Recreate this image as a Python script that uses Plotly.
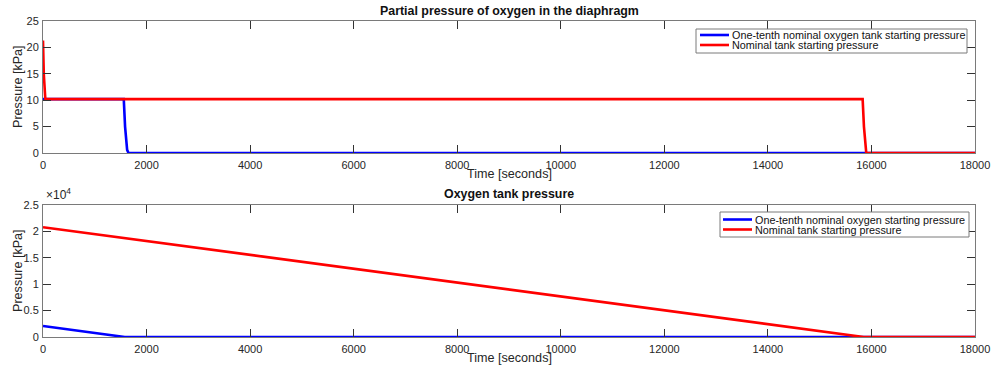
import plotly.graph_objects as go

# Partial pressure of oxygen in the diaphragm [kPa]
t_pp_low = [0, 1560, 1585, 1605, 1625, 1650, 18000]
pp_low = [10.2, 10.2, 5.0, 2.0, 0.6, 0.0, 0.0]
t_pp_nom = [0, 15, 45, 15830, 15855, 15875, 15900, 18000]
pp_nom = [21.3, 15.0, 10.2, 10.2, 5.0, 2.0, 0.0, 0.0]

# Oxygen tank pressure [kPa]
t_tank_low = [0, 1580, 18000]
tank_low = [2080, 0, 0]
t_tank_nom = [0, 15850, 18000]
tank_nom = [20800, 0, 0]

x_ticks = [0, 2000, 4000, 6000, 8000, 10000, 12000, 14000, 16000, 18000]
x_tick_text = [str(v) for v in x_ticks]
top_y_ticks = [0, 5, 10, 15, 20, 25]
bot_y_ticks = [0, 5000, 10000, 15000, 20000, 25000]
bot_y_text = ["0", "0.5", "1", "1.5", "2", "2.5"]

top_names = ["One-tenth nominal oxygen tank starting pressure",
             "Nominal tank starting pressure"]
bot_names = ["One-tenth nominal oxygen starting pressure",
             "Nominal tank starting pressure"]

BLUE = "#0000ff"
RED = "#ff0000"
AXC = "#7a7a7a"
TXT = "#262626"
FONT = "Liberation Sans, Arial, sans-serif"

W, H = 992, 368
L, R, T, B = 43, 975, 21, 337   # plot-area edges in pixels


def fx(px):
    return (px - L) / (R - L)


def fy(py):
    return (B - py) / (B - T)


fig = go.Figure()
fig.add_trace(go.Scatter(x=t_pp_low, y=pp_low, mode="lines",
                         line=dict(color=BLUE, width=2.6), name=top_names[0],
                         xaxis="x", yaxis="y"))
fig.add_trace(go.Scatter(x=t_pp_nom, y=pp_nom, mode="lines",
                         line=dict(color=RED, width=2.6), name=top_names[1],
                         xaxis="x", yaxis="y"))
fig.add_trace(go.Scatter(x=t_tank_low, y=tank_low, mode="lines",
                         line=dict(color=BLUE, width=2.6), name=bot_names[0],
                         xaxis="x2", yaxis="y2"))
fig.add_trace(go.Scatter(x=t_tank_nom, y=tank_nom, mode="lines",
                         line=dict(color=RED, width=2.6), name=bot_names[1],
                         xaxis="x2", yaxis="y2"))

axis_common = dict(showgrid=False, zeroline=False, showline=True, linecolor=AXC,
                   linewidth=1, mirror="allticks", ticks="inside", ticklen=8,
                   tickcolor="#333333", tickwidth=1, automargin=False,
                   tickfont=dict(size=11, color=TXT, family=FONT))

top_dom = [fy(153), 1.0]
bot_dom = [0.0, fy(205)]

fig.update_layout(
    width=W, height=H,
    margin=dict(l=L, r=W - R, t=T, b=H - B),
    paper_bgcolor="white", plot_bgcolor="white",
    showlegend=False,
    xaxis=dict(domain=[0, 1], anchor="y", range=[0, 18000], tickvals=x_ticks,
               ticktext=x_tick_text, ticklabelstandoff=2, **axis_common),
    yaxis=dict(domain=top_dom, anchor="x", range=[0, 25], tickvals=top_y_ticks,
               ticklabelstandoff=1, **axis_common),
    xaxis2=dict(domain=[0, 1], anchor="y2", range=[0, 18000], tickvals=x_ticks,
                ticktext=x_tick_text, ticklabelstandoff=2, **axis_common),
    yaxis2=dict(domain=bot_dom, anchor="x2", range=[0, 25000], tickvals=bot_y_ticks,
                ticktext=bot_y_text, ticklabelstandoff=1, **axis_common),
)

ann = []
shapes = []


def text(s, x, y, size=11, bold=False, xanchor="center", yanchor="middle",
         angle=0, color=TXT):
    ann.append(dict(text=f"<b>{s}</b>" if bold else s, x=fx(x), y=fy(y),
                    xref="paper", yref="paper", xanchor=xanchor, yanchor=yanchor,
                    showarrow=False, textangle=angle,
                    font=dict(size=size, color=color, family=FONT)))


# titles and axis labels
text("Partial pressure of oxygen in the diaphragm", (L + R) / 2, 11, size=12.4, bold=True,
     color="#111111")
text("Oxygen tank pressure", (L + R) / 2, 194, size=12.4, bold=True, color="#111111")
text("Time [seconds]", (L + R) / 2, 174, size=12.6)
text("Time [seconds]", (L + R) / 2, 358, size=12.6)
text("Pressure [kPa]", 18, 87, size=12.6, angle=-90)
text("Pressure [kPa]", 18, 271, size=12.6, angle=-90)
ann.append(dict(text="×10<sup>4</sup>", x=fx(44), y=fy(204), xref="paper", yref="paper",
                xanchor="left", yanchor="bottom", showarrow=False,
                font=dict(size=12, color=TXT, family=FONT)))


def legend_box(x0, x1, y0, y1, line_x0, line_x1, rows, names):
    shapes.append(dict(type="rect", xref="paper", yref="paper",
                       x0=fx(x0), x1=fx(x1), y0=fy(y0), y1=fy(y1),
                       line=dict(color=AXC, width=1), fillcolor="white", layer="above"))
    for (ry, color), name in zip(zip(rows, [BLUE, RED]), names):
        shapes.append(dict(type="line", xref="paper", yref="paper",
                           x0=fx(line_x0), x1=fx(line_x1), y0=fy(ry), y1=fy(ry),
                           line=dict(color=color, width=2.6), layer="above"))
        text(name, line_x1 + 1, ry, size=10.8, xanchor="left", color="#111111")


legend_box(696, 967, 29, 53, 700, 729, [35, 45], top_names)
legend_box(720, 969, 212, 237, 723, 752, [219.5, 229.5], bot_names)

fig.update_layout(annotations=ann, shapes=shapes)

fig.write_html("out.html")
